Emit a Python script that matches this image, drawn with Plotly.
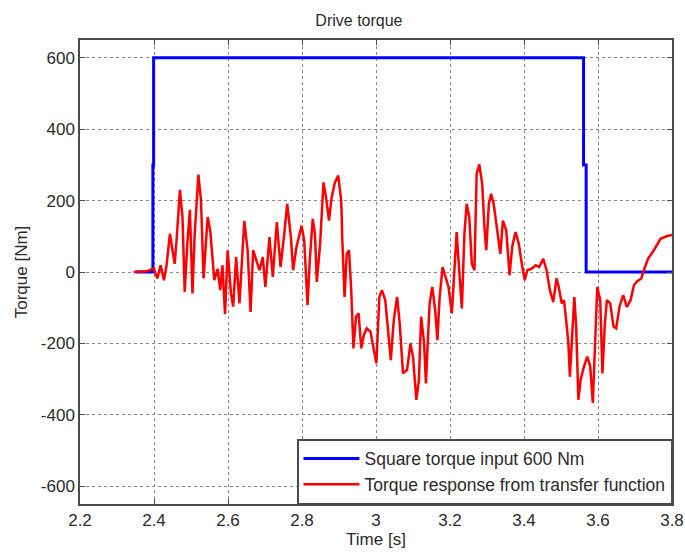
import plotly.graph_objects as go

# Square torque input (Nm) over time (s)
t_input = [2.35, 2.397, 2.397, 2.399, 2.399, 3.561, 3.561, 3.568, 3.568, 3.80]
torque_input = [0, 0, 300, 300, 600, 600, 300, 300, 0, 0]

# Torque response from the transfer function (Nm)
t_resp = [
    2.345, 2.380, 2.3995, 2.409, 2.418, 2.427, 2.434, 2.443, 2.450, 2.456,
    2.461, 2.470, 2.477, 2.483, 2.490, 2.497, 2.504, 2.510, 2.520, 2.527,
    2.534, 2.545, 2.552, 2.563, 2.572, 2.579, 2.585, 2.592, 2.599, 2.608,
    2.614, 2.622, 2.631, 2.644, 2.653, 2.661, 2.668, 2.676, 2.685, 2.694,
    2.701, 2.712, 2.721, 2.732, 2.742, 2.753, 2.760, 2.770, 2.776, 2.785,
    2.799, 2.806, 2.815, 2.821, 2.829, 2.835, 2.840, 2.849, 2.858, 2.865,
    2.873, 2.880, 2.889, 2.898, 2.906, 2.909, 2.915, 2.921, 2.927, 2.933,
    2.939, 2.946, 2.953, 2.960, 2.967, 2.975, 2.985, 2.994, 3.001, 3.009,
    3.016, 3.025, 3.033, 3.040, 3.048, 3.057, 3.064, 3.073, 3.084, 3.093,
    3.100, 3.109, 3.116, 3.122, 3.130, 3.135, 3.139, 3.145, 3.152, 3.160,
    3.166, 3.172, 3.180, 3.187, 3.196, 3.205, 3.211, 3.218, 3.223, 3.232,
    3.239, 3.245, 3.252, 3.259, 3.266, 3.272, 3.279, 3.287, 3.293, 3.298,
    3.305, 3.311, 3.318, 3.327, 3.336, 3.343, 3.352, 3.361, 3.368, 3.377,
    3.386, 3.394, 3.402, 3.409, 3.420, 3.432, 3.441, 3.452, 3.461, 3.470,
    3.479, 3.488, 3.494, 3.502, 3.508, 3.513, 3.520, 3.524, 3.530, 3.536,
    3.541, 3.547, 3.553, 3.562, 3.571, 3.579, 3.586, 3.592, 3.598, 3.606,
    3.612, 3.618, 3.624, 3.633, 3.642, 3.649, 3.658, 3.668, 3.678, 3.688,
    3.697, 3.706, 3.717, 3.724, 3.735, 3.751, 3.769, 3.785, 3.800,
]
torque_resp = [
    0, 2, 10, -18, 19, -23, 19, 107, 61, 23,
    89, 230, 154, -56, 79, 174, -60, 107, 273, 200,
    -18, 154, 116, -23, 9, -51, 19, -118, 61, -60,
    -97, 42, -88, 143, 61, -112, 61, 33, 5, 42,
    -42, 98, -14, 140, 14, 116, 191, 98, 5, 70,
    130, 88, -93, 33, 149, 107, -28, 79, 251, 209,
    144, 209, 251, 270, 200, 88, -70, 51, 61, -51,
    -214, -125, -116, -214, -177, -158, -167, -218, -256, -70,
    -51, -79, -181, -247, -135, -70, -144, -284, -274, -200,
    -237, -358, -302, -125, -200, -312, -218, -88, -42, -107,
    -191, -70, 14, -9, -42, -116, -14, 112, 33, -102,
    107, 191, 154, 23, 5, 275, 302, 247, 126, 61,
    191, 219, 191, 116, 51, 144, 116, -9, 70, 112,
    79, 23, -23, 5, 9, 19, 14, 37, 5, -51,
    -84, -18, -42, -88, -79, -126, -200, -293, -172, -70,
    -153, -358, -302, -265, -237, -265, -367, -190, -42, -79,
    -284, -153, -79, -88, -153, -158, -98, -65, -98, -79,
    -37, -26, -18, 5, 37, 61, 93, 100, 104,
]

x_ticks = [2.2, 2.4, 2.6, 2.8, 3.0, 3.2, 3.4, 3.6, 3.8]
x_tick_labels = ["2.2", "2.4", "2.6", "2.8", "3", "3.2", "3.4", "3.6", "3.8"]
y_ticks = [-600, -400, -200, 0, 200, 400, 600]
y_tick_labels = ["-600", "-400", "-200", "0", "200", "400", "600"]

FONT = "Liberation Sans, Arial, sans-serif"
TXT = "#2b2b2b"
SIZE = 17

fig = go.Figure()
fig.add_trace(go.Scatter(
    x=t_input, y=torque_input, mode="lines",
    name="Square torque input 600 Nm",
    line=dict(color="#0000ff", width=3),
))
fig.add_trace(go.Scatter(
    x=t_resp, y=torque_resp, mode="lines",
    name="Torque response from transfer function",
    line=dict(color="#ff0000", width=2.5),
))

axis_common = dict(
    showline=True, linecolor="#4a4a4a", linewidth=1.5, mirror="ticks",
    ticks="inside", ticklen=5, tickcolor="#4a4a4a",
    showgrid=True, gridcolor="#8a8a8a", griddash="dot", gridwidth=1,
    zeroline=False, automargin=False,
    tickfont=dict(family=FONT, size=SIZE, color=TXT),
)

fig.update_layout(
    width=685, height=556,
    margin=dict(l=80, r=13, t=40, b=52),
    paper_bgcolor="white", plot_bgcolor="white",
    title=dict(text="Drive torque", x=0.524, xanchor="center", y=0.963,
               yanchor="middle", font=dict(family=FONT, size=16, color=TXT)),
    xaxis=dict(range=[2.2, 3.8], tickvals=x_ticks, ticktext=x_tick_labels,
               title=dict(text="Time [s]", standoff=4,
                          font=dict(family=FONT, size=SIZE, color=TXT)),
               **axis_common),
    yaxis=dict(range=[-650, 650], tickvals=y_ticks, ticktext=y_tick_labels,
               title=dict(text="Torque [Nm]", standoff=9,
                          font=dict(family=FONT, size=SIZE, color=TXT)),
               **axis_common),
    legend=dict(
        x=1.0, xanchor="right", y=0.0, yanchor="bottom",
        bgcolor="white", bordercolor="#4a4a4a", borderwidth=1.5,
        font=dict(family=FONT, size=17.5, color=TXT),
        itemwidth=56, tracegroupgap=0,
    ),
    showlegend=True,
)

fig.write_html("out.html")
